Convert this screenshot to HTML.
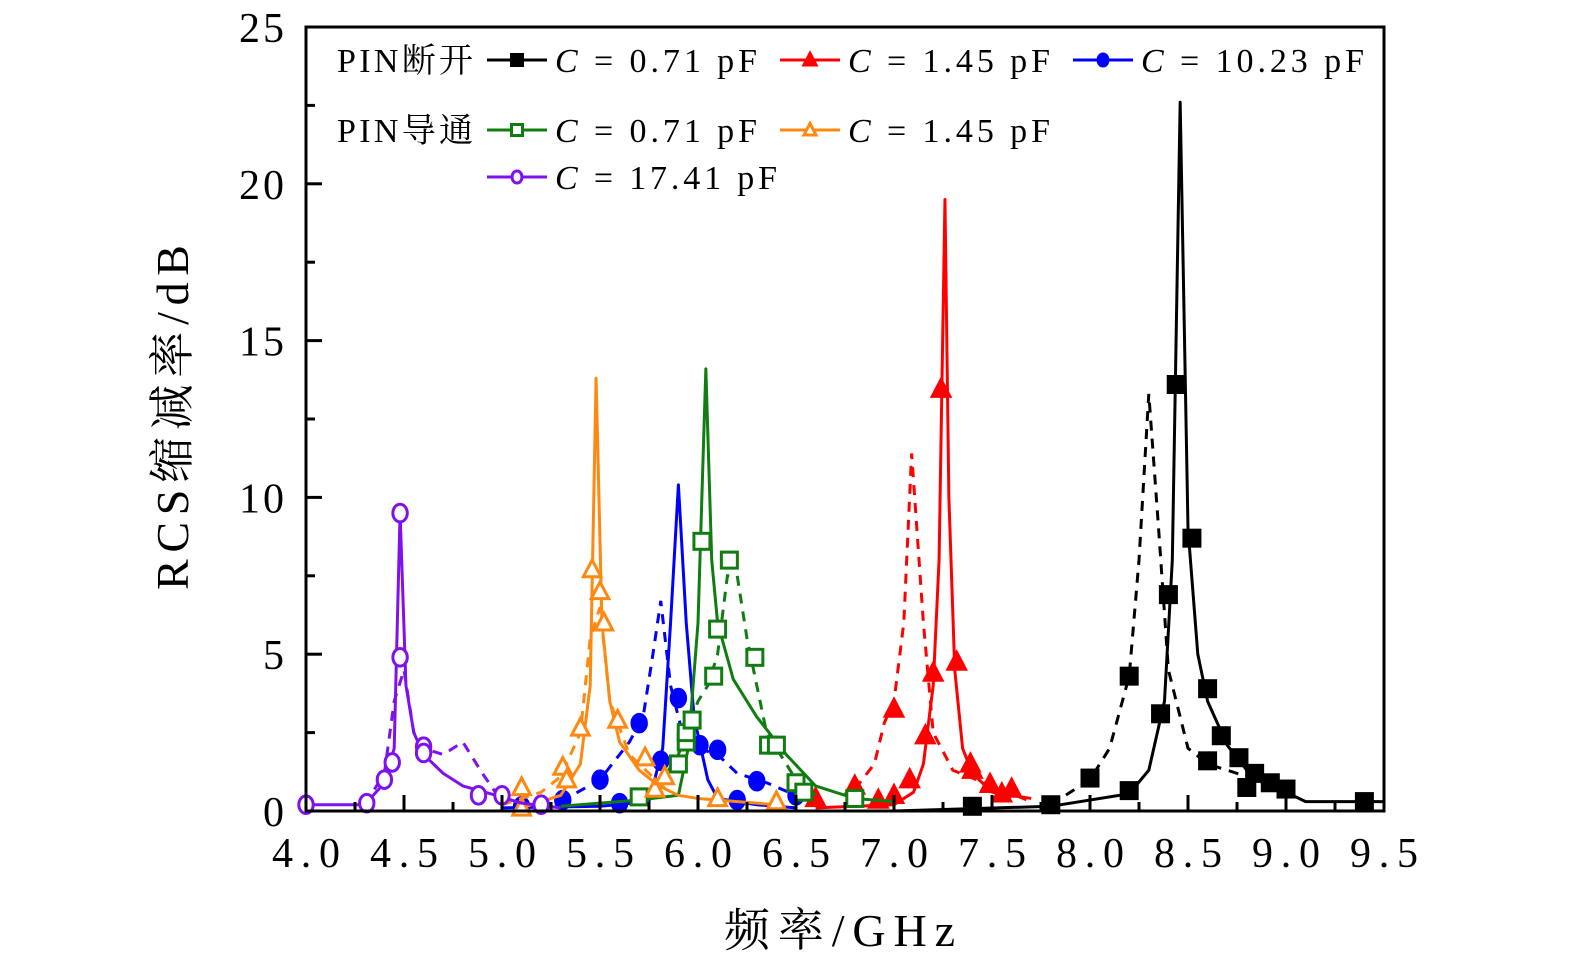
<!DOCTYPE html>
<html><head><meta charset="utf-8"><style>
body{margin:0;background:#fff;}
svg{display:block;}
text{font-family:"Liberation Serif","Noto Serif CJK SC",serif;fill:#000;}
</style></head><body>
<svg id="chart" width="1575" height="965" viewBox="0 0 1575 965" xmlns="http://www.w3.org/2000/svg">
<g id="grid"></g>
<g id="series"></g>
<rect x="306" y="27" width="1078" height="784" fill="none" stroke="#000" stroke-width="3"/>
<g id="axes"></g>
<text x="724" y="946" font-size="46" textLength="231" lengthAdjust="spacing">频率/GHz</text>
<text transform="translate(188,590) rotate(-90)" font-size="46" textLength="345" lengthAdjust="spacing">RCS缩减率/dB</text>
<g id="legend"></g>
</svg>
<script>
const xTicks=[4.0,4.5,5.0,5.5,6.0,6.5,7.0,7.5,8.0,8.5,9.0,9.5];
const yTicks=[0,5,10,15,20,25];
const seriesNames=["off-0.71","off-1.45","off-10.23","on-0.71","on-1.45","on-17.41"];
const blackSolid=[[7.0,0.0],[7.8,0.15],[8.2,0.55],[8.3,1.3],[8.38,3.5],[8.42,8],[8.46,22.6],[8.5,9],[8.55,5],[8.6,3.5],[8.7,2.1],[8.8,1.3],[8.9,0.8],[9.0,0.6],[9.1,0.3],[9.5,0.3]];
const blackDash=[[7.8,0.2],[8.0,1.0],[8.1,2.0],[8.2,4.3],[8.25,8],[8.3,13.3],[8.35,9],[8.4,4.5],[8.5,2.0],[8.6,1.5],[8.75,1.2],[8.9,0.9],[9.0,0.6]];
const blackMarks=[[8.44,13.6],[8.52,8.7],[8.40,6.9],[8.20,4.3],[8.36,3.1],[8.60,3.9],[8.67,2.4],[8.60,1.6],[8.76,1.7],[8.80,0.75],[8.84,1.2],[8.92,0.9],[9.0,0.7],[8.0,1.05],[8.2,0.65],[7.8,0.2],[7.4,0.15],[9.4,0.3]];
const redSolid=[[6.6,0.1],[7.0,0.2],[7.1,0.6],[7.15,1.5],[7.2,4],[7.23,8],[7.26,19.5],[7.28,10],[7.31,4.5],[7.35,2],[7.4,1.2],[7.5,0.6],[7.7,0.4]];
const redDash=[[6.8,0.7],[6.9,1.5],[6.95,2.8],[7.0,3.5],[7.05,6],[7.09,11.4],[7.15,6],[7.2,2.5],[7.3,1.3],[7.5,0.8],[7.7,0.3]];
const redMarks=[[7.24,13.45],[7.32,4.75],[7.20,4.4],[7.16,2.4],[7.08,1.0],[7.0,0.5],[6.92,0.35],[6.80,0.8],[6.60,0.4],[7.39,1.5],[7.40,1.3],[7.49,0.85],[7.55,0.55],[7.60,0.7],[7.0,3.25]];
const blueSolid=[[5.0,0.1],[5.5,0.15],[5.75,0.3],[5.82,2],[5.86,6],[5.9,10.4],[5.94,6],[5.98,3],[6.05,1],[6.1,0.4],[6.3,0.2],[6.5,0.1]];
const blueDash=[[5.3,0.3],[5.5,1.0],[5.65,2.2],[5.72,3],[5.77,5],[5.81,6.7],[5.86,4],[5.92,2.5],[6.0,2],[6.1,1.8],[6.2,1.2],[6.35,0.9],[6.5,0.5]];
const blueMarks=[[5.1,0.15],[5.31,0.35],[5.5,1.0],[5.6,0.25],[5.70,2.8],[5.81,1.6],[5.90,3.6],[6.01,2.1],[6.10,1.95],[6.2,0.35],[6.30,0.95],[6.5,0.5]];
const greenSolid=[[5.3,0.15],[5.7,0.35],[5.9,0.5],[5.95,2],[6.0,6],[6.04,14.1],[6.07,8],[6.1,6],[6.18,4.2],[6.3,3],[6.45,1.8],[6.6,0.8],[6.8,0.4],[7.0,0.3]];
const greenDash=[[5.8,0.8],[5.9,1.8],[6.0,3.5],[6.05,4],[6.1,5],[6.15,7.5],[6.2,7.5],[6.25,5.5],[6.35,2.5],[6.5,1.0],[6.6,0.5]];
const greenMarks=[[5.70,0.45],[5.90,1.5],[5.94,2.2],[5.94,2.5],[5.97,2.9],[6.02,8.6],[6.08,4.3],[6.10,5.8],[6.16,8.0],[6.29,4.9],[6.36,2.1],[6.40,2.1],[6.50,0.9],[6.54,0.6],[6.80,0.4]];
const orangeSolid=[[5.1,0.1],[5.3,0.5],[5.4,1.5],[5.45,4],[5.48,13.8],[5.51,6],[5.55,3.5],[5.6,2.2],[5.7,1.3],[5.8,0.8],[5.9,0.5],[6.0,0.4],[6.4,0.2]];
const orangeDash=[[5.0,0.2],[5.2,0.6],[5.3,1.1],[5.4,2.5],[5.45,5.5],[5.5,6.5],[5.55,3.5],[5.65,1.8],[5.75,1.2],[5.85,0.6]];
const orangeMarks=[[5.10,0.75],[5.31,1.4],[5.33,1.0],[5.40,2.65],[5.46,7.7],[5.50,7.0],[5.52,6.0],[5.59,2.9],[5.73,1.7],[5.78,0.7],[5.83,1.1],[6.10,0.4],[6.40,0.3],[5.1,0.1]];
const purpleSolid=[[4.0,0.2],[4.3,0.2],[4.4,0.9],[4.45,2],[4.48,9.5],[4.51,4],[4.55,2.5],[4.6,1.8],[4.7,1.2],[4.8,0.8],[4.97,0.5],[5.1,0.25],[5.3,0.1]];
const purpleDash=[[4.3,0.2],[4.4,1.2],[4.45,3.5],[4.5,4.5],[4.55,2.5],[4.6,2.0],[4.7,1.8],[4.8,2.2],[4.9,1.2],[5.0,0.3]];
const purpleMarks=[[4.0,0.2],[4.31,0.25],[4.40,1.0],[4.44,1.55],[4.48,9.5],[4.48,4.9],[4.60,2.05],[4.60,1.85],[4.88,0.5],[5.0,0.5],[5.2,0.2]];

const NS="http://www.w3.org/2000/svg";
const X0=306,X1=1384,Y0=811,Y1=27;
function sx(v){return X0+(v-4.0)/5.5*(X1-X0);}
function sy(v){return Y0-v/25*(Y0-Y1);}
function mk(tag,attrs,parent){const e=document.createElementNS(NS,tag);for(const k in attrs)e.setAttribute(k,attrs[k]);parent.appendChild(e);return e;}
const axes=document.getElementById('axes');
for(let v=4.0;v<=9.5001;v+=0.25){
  const major=Math.abs(v*2-Math.round(v*2))<1e-6;
  const t=mk('line',{x1:sx(v),x2:sx(v),y1:Y0,y2:Y0-(major?16:9),stroke:'#000','stroke-width':3},axes);
  
  
}
xTicks.forEach(v=>{const t=mk('text',{x:sx(v)-34,y:867,'font-size':42,textLength:68,lengthAdjust:'spacing'},axes);t.textContent=v.toFixed(1);
  
  });
for(let v=0;v<=25.001;v+=2.5){
  const major=Math.abs(v/5-Math.round(v/5))<1e-6;
  const t=mk('line',{x1:X0,x2:X0+(major?16:9),y1:sy(v),y2:sy(v),stroke:'#000','stroke-width':3},axes);
  
  
}
yTicks.forEach(v=>{const t=mk('text',{x:287,y:sy(v)+15,'font-size':42,'text-anchor':'end','letter-spacing':3},axes);t.textContent=v;
  
  });

function marker(g,shape,color,fill,x,y,s){
  let e;
  if(shape==='sq') e=mk('rect',{x:x-s/2,y:y-s/2,width:s,height:s},g);
  else if(shape==='tri') e=mk('polygon',{points:`${x},${y-s*0.6} ${x-s*0.55},${y+s*0.45} ${x+s*0.55},${y+s*0.45}`},g);
  else e=mk('ellipse',{cx:x,cy:y,rx:s*0.45,ry:s*0.55},g);
  e.setAttribute('fill',fill?color:'#fff');e.setAttribute('stroke',color);e.setAttribute('stroke-width',3);
  return e;
}
const defs=[
 ['#000','sq',true,blackSolid,blackDash,blackMarks],
 ['#ff0000','tri',true,redSolid,redDash,redMarks],
 ['#0000ff','circ',true,blueSolid,blueDash,blueMarks],
 ['#117d11','sq',false,greenSolid,greenDash,greenMarks],
 ['#ff8811','tri',false,orangeSolid,orangeDash,orangeMarks],
 ['#7f11ee','circ',false,purpleSolid,purpleDash,purpleMarks]];
const sg=document.getElementById('series');
defs.forEach((d,i)=>{
  const g=mk('g',{},sg);
  
  
  const dl=mk('polyline',{points:d[4].map(p=>sx(p[0])+','+sy(p[1])).join(' '),fill:'none',stroke:d[0],'stroke-width':3,'stroke-dasharray':'10 8'},g);
  
  
  const sl=mk('polyline',{points:d[3].map(p=>sx(p[0])+','+sy(p[1])).join(' '),fill:'none',stroke:d[0],'stroke-width':3,'stroke-linejoin':'round'},g);
  
  
  d[5].forEach(p=>{const m=marker(g,d[1],d[0],d[2],sx(p[0]),sy(p[1]),16);
    
    });
});
const lg=document.getElementById('legend');
const legRows=[[337,60,'PIN断开'],[337,130,'PIN导通']];
legRows.forEach(r=>{const t=mk('text',{x:r[0],y:r[1]+12,'font-size':34,textLength:136,lengthAdjust:'spacing'},lg);t.textContent=r[2];
  
  });
const legItems=[[487,60,0,'0.71',202],[780,60,1,'1.45',202],[1073,60,2,'10.23',223],[487,130,3,'0.71',202],[780,130,4,'1.45',202],[487,177,5,'17.41',222]];
legItems.forEach(it=>{
  const d=defs[it[2]];
  const g=mk('g',{},lg);
  
  
  mk('line',{x1:it[0],x2:it[0]+60,y1:it[1],y2:it[1],stroke:d[0],'stroke-width':3},g);
  marker(g,d[1],d[0],d[2],it[0]+30,it[1],11);
  const t=mk('text',{x:it[0]+68,y:it[1]+12,'font-size':34,textLength:it[4],lengthAdjust:'spacing'},g);
  t.innerHTML='<tspan font-style="italic">C</tspan> = '+it[3]+' pF';
});
</script>
</body></html>
